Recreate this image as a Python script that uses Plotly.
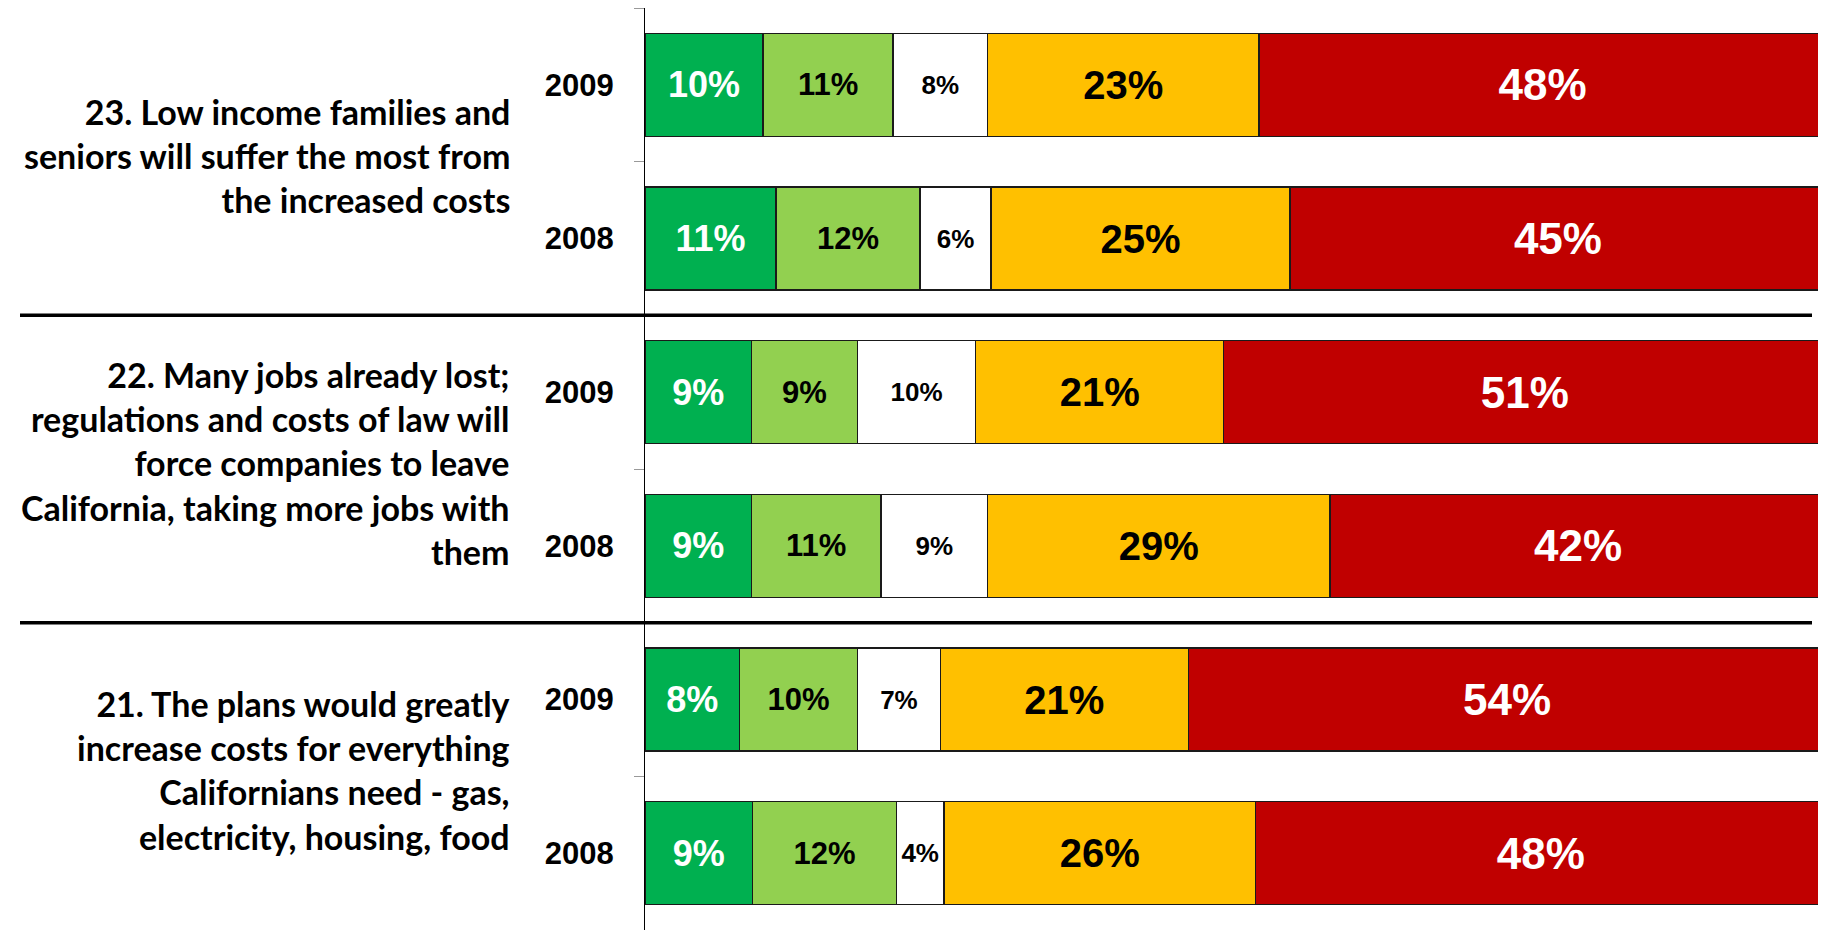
import plotly.graph_objects as go

# Survey statements, each asked in 2009 and 2008 (top to bottom)
questions = [
    "23. Low income families and<br>seniors will suffer the most from<br>the increased costs",
    "22. Many jobs already lost;<br>regulations and costs of law will<br>force companies to leave<br>California, taking more jobs with<br>them",
    "21. The plans would greatly<br>increase costs for everything<br>Californians need - gas,<br>electricity, housing, food",
]
years = ["2009", "2008"]

# Shares per row (Q23 2009, Q23 2008, Q22 2009, Q22 2008, Q21 2009, Q21 2008)
not_at_all = [10, 11.1, 9, 9, 8, 9.1]
not_too = [11, 12.2, 9, 11, 10, 12.2]
dont_know = [8, 6.0, 10, 9, 7, 4.0]
somewhat = [23, 25.3, 21, 29, 21, 26.4]
very = [48, 45.4, 51, 42, 54, 48.3]

series = [
    ("Not at all convincing", not_at_all, "#00B050", "white", 36),
    ("Not too convincing", not_too, "#92D050", "black", 31),
    ("Don't know", dont_know, "#FFFFFF", "black", 26),
    ("Somewhat convincing", somewhat, "#FFC000", "black", 40),
    ("Very convincing", very, "#C00000", "white", 44),
]

# one unique category per row, labelled only with the year
rows = [f"Q{23 - i} {y}" for i in range(len(questions)) for y in years]
row_labels = [y for _ in questions for y in years]

fig = go.Figure()
for name, vals, color, txt_color, size in series:
    fig.add_trace(
        go.Bar(
            y=rows,
            x=vals,
            name=name,
            orientation="h",
            marker=dict(color=color, line=dict(color="#1a1a1a", width=1.5)),
            texttemplate="%{x:.0f}%",
            textposition="inside",
            insidetextanchor="middle",
            textfont=dict(family="Liberation Sans, Arial", size=size,
                          color=txt_color, weight="bold"),
            hoverinfo="skip",
        )
    )

# page has an 8px body margin, so the figure is sized to fit inside the window
W, H = 1818, 922
PX0 = 637            # left edge of the plot area
PW = W - PX0         # plot area width

# question labels centred on each pair of bars
annotations = []
for i, q in enumerate(questions):
    annotations.append(dict(
        text=q, xref="paper", yref="y",
        x=(504 - PX0) / PW, y=2 * i + 0.5,
        xanchor="right", yanchor="middle", align="right",
        showarrow=False, yshift=6,
        font=dict(family="Lato", size=34, color="black", weight="bold"),
    ))

# thick separators between question groups
shapes = []
for i in range(1, len(questions)):
    shapes.append(dict(
        type="line", xref="paper", yref="y",
        x0=(12 - PX0) / PW, x1=(1804 - PX0) / PW,
        y0=2 * i - 0.5, y1=2 * i - 0.5,
        line=dict(color="black", width=3.5),
    ))

fig.update_layout(
    barmode="stack",
    bargap=0.33,
    width=W,
    height=H,
    margin=dict(l=PX0, r=0, t=0, b=0),
    paper_bgcolor="white",
    plot_bgcolor="white",
    showlegend=False,
    annotations=annotations,
    shapes=shapes,
    xaxis=dict(range=[0, 100], visible=False, showgrid=False, fixedrange=True),
    yaxis=dict(
        type="category",
        autorange="reversed",
        tickvals=rows,
        ticktext=row_labels,
        tickson="boundaries",
        ticks="outside",
        ticklen=10,
        tickcolor="#999999",
        tickwidth=1,
        ticklabelstandoff=24,
        showline=True,
        linecolor="black",
        linewidth=1,
        showgrid=False,
        tickfont=dict(family="Liberation Sans, Arial", size=31, color="black",
                      weight="bold"),
    ),
)

fig.write_html("out.html")
